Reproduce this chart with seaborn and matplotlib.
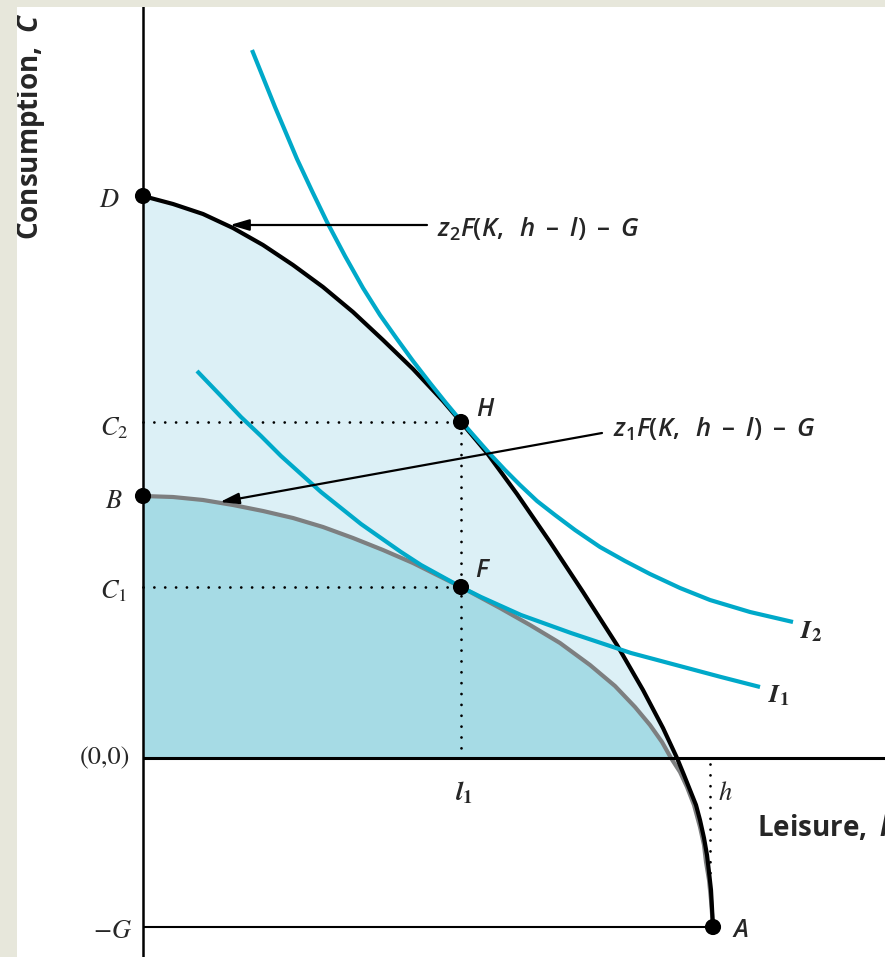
import numpy as np
import matplotlib
matplotlib.use("Agg")
import matplotlib.pyplot as plt
import seaborn as sns
from matplotlib.patches import Rectangle

# --- curves (leisure l, consumption C) ---------------------------------
# production possibilities frontier with productivity z2: z2 F(K, h - l) - G
leisure_z2 = [0.00, 0.30, 0.60, 0.90, 1.20, 1.50, 1.80, 2.10, 2.40, 2.70,
              3.00, 3.18, 3.44, 3.74, 4.07, 4.40, 4.74, 5.00, 5.20, 5.34,
              5.41, 5.47, 5.53, 5.57, 5.61, 5.64, 5.66, 5.68, 5.69, 5.70]
consumption_z2 = [5.62, 5.54, 5.44, 5.30, 5.13, 4.93, 4.71, 4.46, 4.18, 3.89,
                  3.57, 3.36, 3.05, 2.64, 2.16, 1.66, 1.13, 0.68, 0.30, 0.00,
                  -0.17, -0.32, -0.47, -0.62, -0.80, -0.97, -1.14, -1.32, -1.50, -1.69]

# frontier with productivity z1: z1 F(K, h - l) - G
leisure_z1 = [0.00, 0.30, 0.60, 0.90, 1.20, 1.50, 1.80, 2.10, 2.40, 2.70,
              3.00, 3.18, 3.57, 3.87, 4.17, 4.47, 4.72, 4.92, 5.07, 5.19,
              5.28, 5.37, 5.44, 5.51, 5.57, 5.61, 5.63, 5.66, 5.68, 5.70]
consumption_z1 = [2.62, 2.61, 2.58, 2.53, 2.47, 2.40, 2.31, 2.20, 2.08, 1.95,
                  1.80, 1.71, 1.50, 1.33, 1.15, 0.93, 0.72, 0.51, 0.33, 0.16,
                  0.00, -0.14, -0.29, -0.47, -0.69, -0.87, -1.04, -1.22, -1.42, -1.69]

# indifference curves
leisure_I2 = [1.09, 1.32, 1.54, 1.69, 1.84, 2.02, 2.20, 2.37, 2.54, 2.70,
              2.87, 3.03, 3.18, 3.32, 3.47, 3.62, 3.77, 3.94, 4.12, 4.32,
              4.57, 4.82, 5.07, 5.37, 5.67, 6.07, 6.50]
consumption_I2 = [7.08, 6.51, 5.99, 5.67, 5.36, 5.02, 4.70, 4.43, 4.19, 3.97,
                  3.75, 3.55, 3.37, 3.21, 3.04, 2.88, 2.73, 2.57, 2.43, 2.28,
                  2.11, 1.97, 1.84, 1.70, 1.58, 1.46, 1.36]
leisure_I1 = [0.54, 0.78, 0.98, 1.18, 1.38, 1.58, 1.78, 1.98, 2.18, 2.38,
              2.58, 2.78, 2.98, 3.18, 3.38, 3.58, 3.78, 4.03, 4.28, 4.58,
              4.88, 5.18, 5.48, 5.78, 6.17]
consumption_I1 = [3.87, 3.62, 3.41, 3.22, 3.02, 2.84, 2.66, 2.50, 2.34, 2.20,
                  2.06, 1.93, 1.82, 1.71, 1.61, 1.52, 1.43, 1.34, 1.25, 1.15,
                  1.05, 0.97, 0.89, 0.81, 0.71]

# labelled points
point_names = ["D", "B", "H", "F", "A"]
point_l = [0.00, 0.00, 3.18, 3.18, 5.70]
point_c = [5.62, 2.62, 3.36, 1.71, -1.69]

C2, C1 = 3.36, 1.71
l1 = 3.18
h = 5.67
G = 1.69

# --- styling ------------------------------------------------------------
CYAN = "#00a9c9"
GRAY = "#7d7f80"
LIGHT_FILL = "#dcf0f6"
DARK_FILL = "#a6dbe5"
BEIGE = "#e7e7db"

sns.set_theme(style="white")
plt.rcParams.update({
    "font.family": ["Open Sans", "DejaVu Sans"],
    "mathtext.fontset": "custom",
    "mathtext.rm": "Open Sans:semibold",
    "mathtext.it": "Open Sans:italic:semibold",
    "mathtext.bf": "Open Sans:bold",
    "mathtext.bfit": "Open Sans:italic:bold",
})

W, H_PX = 885, 957
fig = plt.figure(figsize=(W / 100, H_PX / 100), dpi=100)
fig.patch.set_facecolor("white")
ax = fig.add_axes([0, 0, 1, 1])
XMIN, XMAX = -1.43, 7.42
YMIN, YMAX = -1.99, 7.58
ax.set_xlim(XMIN, XMAX)
ax.set_ylim(YMIN, YMAX)
ax.set_axis_off()

lz2, cz2 = np.array(leisure_z2), np.array(consumption_z2)
lz1, cz1 = np.array(leisure_z1), np.array(consumption_z1)

# shaded feasible sets above the leisure axis
ax.fill_between(lz2, np.clip(cz2, 0, None), 0, color=LIGHT_FILL, lw=0, zorder=1)
ax.fill_between(lz1, np.clip(cz1, 0, None), 0, color=DARK_FILL, lw=0, zorder=2)

# axes
ax.vlines(0, YMIN, YMAX, color="black", lw=1.8, zorder=6)
ax.hlines(0, 0, XMAX, color="black", lw=2.2, zorder=6)
ax.hlines(-G, 0, point_l[4], color="black", lw=1.5, zorder=6)

# dotted guides
dots = dict(color="black", lw=2.0, linestyle=(0, (0.01, 3.9)),
            dash_capstyle="round", zorder=3)
ax.plot([0, l1], [C2, C2], **dots)
ax.plot([0, l1], [C1, C1], **dots)
ax.plot([l1, l1], [C2, 0], **dots)
ax.plot([h, h], [-0.06, -1.26], **dots)

# frontiers and indifference curves
line_kw = dict(sort=False, estimator=None, ax=ax, legend=False)
sns.lineplot(x=leisure_z1, y=consumption_z1, color=GRAY, lw=3.0,
             solid_capstyle="round", solid_joinstyle="round", zorder=4, **line_kw)
sns.lineplot(x=leisure_z2, y=consumption_z2, color="black", lw=3.0,
             solid_capstyle="round", solid_joinstyle="round", zorder=5, **line_kw)
sns.lineplot(x=leisure_I1, y=consumption_I1, color=CYAN, lw=3.0,
             solid_capstyle="butt", solid_joinstyle="round", zorder=7, **line_kw)
sns.lineplot(x=leisure_I2, y=consumption_I2, color=CYAN, lw=3.0,
             solid_capstyle="butt", solid_joinstyle="round", zorder=7, **line_kw)

sns.scatterplot(x=point_l, y=point_c, s=135, color="black",
                edgecolor="none", zorder=10, ax=ax, legend=False)

# arrows pointing to the two frontiers
arrow = dict(arrowstyle="-|>,head_length=0.95,head_width=0.28",
             color="black", lw=1.6, shrinkA=0, shrinkB=0)
ax.annotate("", xy=(0.87, 5.33), xytext=(2.84, 5.33), arrowprops=arrow, zorder=9)
ax.annotate("", xy=(0.77, 2.56), xytext=(4.59, 3.25), arrowprops=arrow, zorder=9)

formula = r"$z_{%d}F(K,\ \,h\ \,–\ \,l)\ \,–\ \,G$"
ax.text(2.94, 5.21, formula % 2, fontsize=18.5,
        ha="left", va="baseline", zorder=11)
ax.text(4.70, 3.21, formula % 1, fontsize=18.5,
        ha="left", va="baseline", zorder=11)

# point labels
sans_lab = dict(fontsize=18, ha="left", va="baseline", zorder=11)
ax.text(3.33, 3.42, r"$H$", **sans_lab)
ax.text(3.32, 1.81, r"$F$", **sans_lab)
ax.text(5.89, -1.79, r"$A$", **sans_lab)

serif = dict(fontsize=19, math_fontfamily="stix", zorder=11)
ax.text(-0.23, 5.51, r"$D$", ha="right", va="baseline", **serif)
ax.text(-0.20, 2.50, r"$B$", ha="right", va="baseline", **serif)
ax.text(-0.15, 3.23, r"$C_2$", ha="right", va="baseline", **serif)
ax.text(-0.16, 1.60, r"$C_1$", ha="right", va="baseline", **serif)
ax.text(-0.11, -1.80, r"$-G$", ha="right", va="baseline", **serif)
ax.text(-0.13, -0.06, "(0,0)", ha="right", va="baseline",
        fontsize=19, fontfamily="STIXGeneral", zorder=11)
ax.text(3.12, -0.42, r"$\mathbfit{l}_\mathbf{1}$", ha="left", va="baseline", **serif)
ax.text(5.75, -0.42, r"$h$", ha="left", va="baseline", **serif)
ax.text(6.57, 1.20, r"$\mathbfit{I}_\mathbf{2}$", ha="left", va="baseline", **serif)
ax.text(6.25, 0.56, r"$\mathbfit{I}_\mathbf{1}$", ha="left", va="baseline", **serif)

# axis titles
ax.text(-1.13, 5.18, r"$\mathbf{Consumption,}\ \mathbfit{C}$", rotation=90,
        fontsize=20, ha="center", va="bottom", zorder=11)
ax.text(6.14, -0.78, r"$\mathbf{Leisure,}\ \mathbfit{l}$", fontsize=20,
        ha="left", va="baseline", zorder=11)

# page border
fig.add_artist(Rectangle((0, 0), 17 / W, 1, transform=fig.transFigure,
                         color=BEIGE, lw=0, zorder=20))
fig.add_artist(Rectangle((0, 1 - 7 / H_PX), 1, 7 / H_PX, transform=fig.transFigure,
                         color=BEIGE, lw=0, zorder=20))

fig.savefig("out.png", dpi=100)
